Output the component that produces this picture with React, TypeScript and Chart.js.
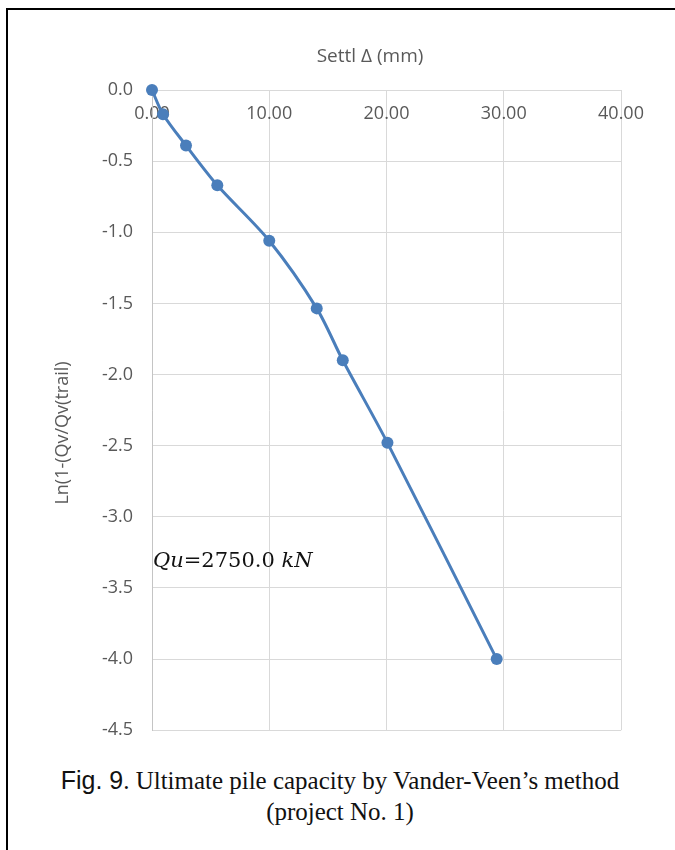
import React, { useEffect, useRef } from "react";
import { Chart, registerables } from "chart.js";

Chart.register(...registerables);

// Settlement (mm) and Ln(1 - Qv/Qv(trail)) readings for project No. 1
const settlement = [0, 0.94, 2.9, 5.57, 10.0, 14.05, 16.27, 20.08, 29.4];
const lnRatio = [0, -0.17, -0.39, -0.67, -1.06, -1.535, -1.9, -2.48, -4.0];

const xTicks = [0, 10, 20, 30, 40];
const yTicks = [0, -0.5, -1.0, -1.5, -2.0, -2.5, -3.0, -3.5, -4.0, -4.5];

const xTitle = "Settl \u0394 (mm)";
const yTitle = "Ln(1-(Qv/Qv(trail)";

const W = 675;
const H = 760;
const AREA = { left: 152, top: 90, right: 621, bottom: 742 };
const TICK_COLOR = "#595959";
const GRID_COLOR = "#d9d9d9";
const LINE_COLOR = "#4A7EBB";
const AXIS_FONT = "'Open Sans', sans-serif";

export default function App() {
  const canvasRef = useRef<HTMLCanvasElement | null>(null);

  useEffect(() => {
    const canvas = canvasRef.current;
    if (!canvas) return;
    const points = settlement.map((x, i) => ({ x, y: lnRatio[i] }));
    const chart = new Chart(canvas, {
      type: "line",
      data: {
        datasets: [
          {
            data: points,
            borderColor: LINE_COLOR,
            backgroundColor: LINE_COLOR,
            borderWidth: 3,
            pointRadius: 6,
            pointHoverRadius: 6,
            pointBorderWidth: 0,
            tension: 0.3,
            fill: false,
            clip: false,
          },
        ],
      },
      options: {
        responsive: false,
        animation: false,
        maintainAspectRatio: false,
        layout: {
          padding: { left: 0, top: 0, right: W - AREA.right, bottom: H - AREA.bottom },
        },
        plugins: {
          legend: { display: false },
          tooltip: { enabled: false },
        },
        scales: {
          x: {
            type: "linear",
            position: "top",
            min: xTicks[0],
            max: xTicks[xTicks.length - 1],
            afterBuildTicks: (scale: any) => {
              scale.ticks = xTicks.map((v) => ({ value: v }));
            },
            afterFit: (scale: any) => {
              scale.height = AREA.top;
            },
            ticks: {
              mirror: true,
              padding: 13,
              color: TICK_COLOR,
              font: { family: AXIS_FONT, size: 18 },
              callback: (v: any) => Number(v).toFixed(2),
            },
            grid: { color: GRID_COLOR, drawTicks: false, lineWidth: 1 },
            border: { color: GRID_COLOR },
          },
          y: {
            type: "linear",
            position: "left",
            min: yTicks[yTicks.length - 1],
            max: yTicks[0],
            afterBuildTicks: (scale: any) => {
              scale.ticks = [...yTicks].reverse().map((v) => ({ value: v }));
            },
            afterFit: (scale: any) => {
              scale.width = AREA.left;
            },
            ticks: {
              padding: 19,
              color: TICK_COLOR,
              font: { family: AXIS_FONT, size: 18 },
              callback: (v: any) => Number(v).toFixed(1),
            },
            grid: { color: GRID_COLOR, drawTicks: false, lineWidth: 1 },
            border: { color: "#c4c4c4" },
          },
        },
      },
    });
    return () => chart.destroy();
  }, []);

  return (
    <div style={{ position: "absolute", left: 0, top: 0, width: W, height: 850, overflow: "hidden", background: "#fff" }}>
      <div
        style={{
          position: "absolute",
          left: 6,
          top: 8,
          width: 700,
          height: 900,
          borderTop: "2px solid #000",
          borderLeft: "2px solid #000",
          boxSizing: "border-box",
        }}
      />
      <canvas ref={canvasRef} width={W} height={H} style={{ position: "absolute", left: 0, top: 0, width: W, height: H }} />
      {/* axis titles */}
      <div
        style={{
          position: "absolute",
          left: 370 - 150,
          top: 55 - 12,
          width: 300,
          height: 24,
          lineHeight: "24px",
          textAlign: "center",
          fontFamily: AXIS_FONT,
          fontSize: 19,
          color: TICK_COLOR,
          whiteSpace: "nowrap",
        }}
      >
        {xTitle}
      </div>
      <div
        style={{
          position: "absolute",
          left: 61 - 150,
          top: 433 - 12,
          width: 300,
          height: 24,
          lineHeight: "24px",
          textAlign: "center",
          fontFamily: AXIS_FONT,
          fontSize: 18,
          color: TICK_COLOR,
          whiteSpace: "nowrap",
          transform: "rotate(-90deg)",
        }}
      >
        {yTitle}
      </div>
      <div
        style={{
          position: "absolute",
          left: 153,
          top: 546,
          fontFamily: "'DejaVu Serif', serif",
          fontSize: 21,
          color: "#111",
          whiteSpace: "nowrap",
          lineHeight: "28px",
        }}
      >
        <i>Qu</i>=2750.0 <i>kN</i>
      </div>
      <div
        style={{
          position: "absolute",
          left: 0,
          top: 765,
          width: 680,
          textAlign: "center",
          fontFamily: "'Liberation Serif', 'Times New Roman', serif",
          fontSize: 26,
          lineHeight: "31px",
          color: "#111",
          transform: "scaleX(0.96)",
          transformOrigin: "340px 0",
        }}
      >
        <span style={{ fontFamily: "'Liberation Sans', Arial, sans-serif" }}>Fig. 9</span>. Ultimate pile capacity by Vander-Veen’s method
        <br />
        (project No. 1)
      </div>
    </div>
  );
}
